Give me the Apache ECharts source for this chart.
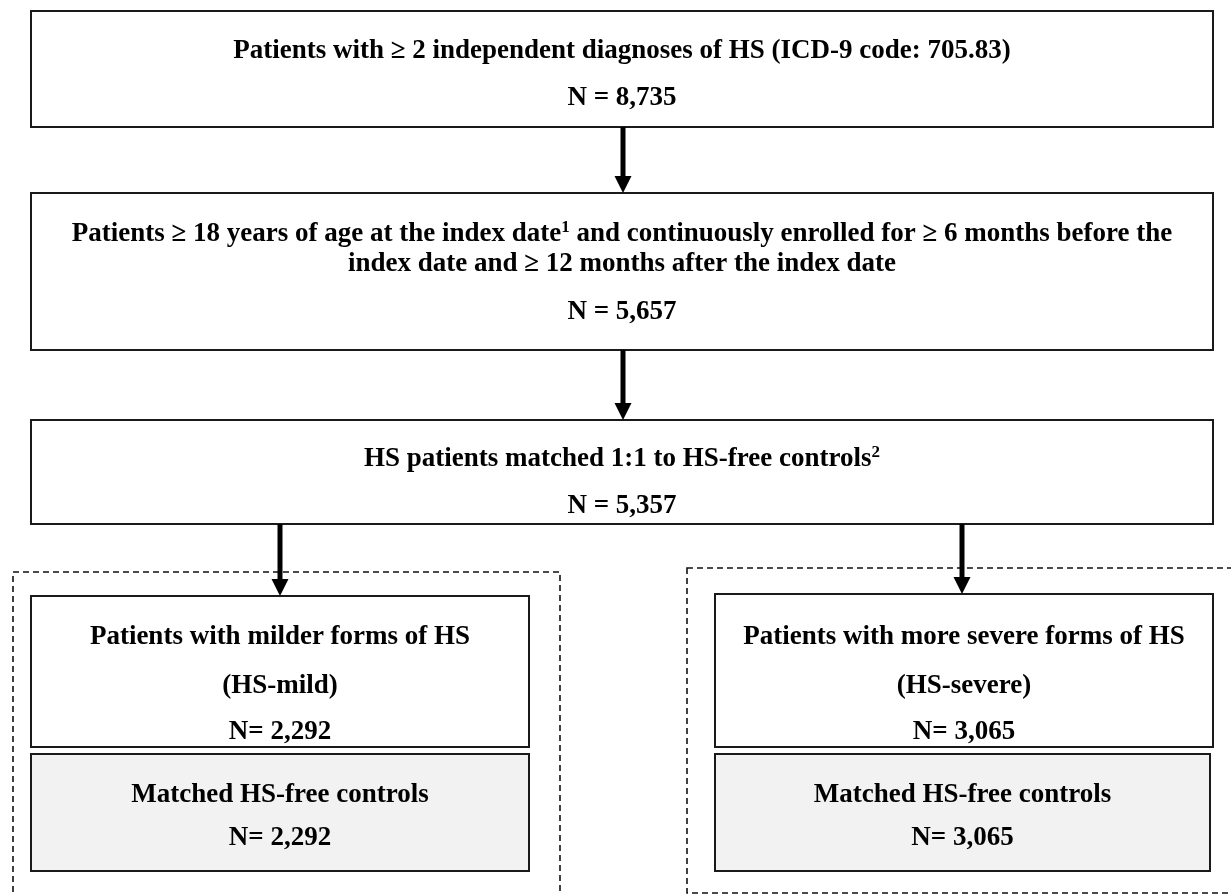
<!DOCTYPE html>
<html>
<head>
<meta charset="utf-8">
<script src="https://cdn.jsdelivr.net/npm/echarts@6/dist/echarts.min.js"></script>
<style>
html,body{margin:0;padding:0;background:#fff;}
#chart{width:1231px;height:895px;}
</style>
</head>
<body>
<div id="chart"></div>
<script>
// ---- data ----
const stepTitles = [
  ['Patients with \u2265 2 independent diagnoses of HS (ICD-9 code: 705.83)'],
  ['Patients \u2265 18 years of age at the index date{s|1} and continuously enrolled for \u2265 6 months before the',
   'index date and \u2265 12 months after the index date'],
  ['HS patients matched 1:1 to HS-free controls{s|2}'],
  ['Patients with milder forms of HS', '(HS-mild)'],
  ['Matched HS-free controls'],
  ['Patients with more severe forms of HS', '(HS-severe)'],
  ['Matched HS-free controls']
];
const stepCounts = [8735, 5657, 5357, 2292, 2292, 3065, 3065];
const countPrefix = ['N = ', 'N = ', 'N = ', 'N= ', 'N= ', 'N= ', 'N= '];
const isControl = [false, false, false, false, true, false, true];

// ---- layout (canvas units) ----
const boxRects = [
  [31, 11, 1213, 127],
  [31, 193, 1213, 350],
  [31, 420, 1213, 524],
  [31, 596, 529, 747],
  [31, 754, 529, 871],
  [715, 594, 1213, 747],
  [715, 754, 1210, 871]
];
const lineYs = [
  [51, 98],
  [234, 264, 312],
  [459, 506],
  [637, 686, 732],
  [795, 838],
  [637, 686, 732],
  [795, 838]
];
const arrows = [
  [623, 127, 193],
  [623, 350, 420],
  [280, 524, 596],
  [962, 524, 594]
];
const groups = [
  [13, 572, 560, 915],
  [687, 568, 1250, 893]
];

const FONT = '"Liberation Serif", "Times New Roman", serif';
const FS = 27;

function fmt(n){ return n.toLocaleString('en-US'); }

const boxData = boxRects.map((r, i) => [r[0], r[1], r[2], r[3], i]);

const chart = echarts.init(document.getElementById('chart'), null, {renderer: 'canvas'});
chart.setOption({
  animation: false,
  backgroundColor: '#ffffff',
  grid: {left: 0, right: 0, top: 0, bottom: 0},
  xAxis: {type: 'value', min: 0, max: 1231, show: false},
  yAxis: {type: 'value', min: 0, max: 895, inverse: true, show: false},
  series: [
    {
      type: 'custom',
      coordinateSystem: 'cartesian2d',
      data: groups,
      z: 1,
      renderItem: function (params, api) {
        const p0 = api.coord([api.value(0), api.value(1)]);
        const p1 = api.coord([api.value(2), api.value(3)]);
        return {
          type: 'rect',
          shape: {x: p0[0], y: p0[1], width: p1[0] - p0[0], height: p1[1] - p0[1]},
          style: {fill: 'none', stroke: '#111', lineWidth: 1.6, lineDash: [6, 4]}
        };
      }
    },
    {
      type: 'custom',
      coordinateSystem: 'cartesian2d',
      data: boxData,
      z: 2,
      renderItem: function (params, api) {
        const i = api.value(4);
        const p0 = api.coord([api.value(0), api.value(1)]);
        const p1 = api.coord([api.value(2), api.value(3)]);
        const cx = (p0[0] + p1[0]) / 2;
        const lines = stepTitles[i].concat([countPrefix[i] + fmt(stepCounts[i])]);
        const children = [{
          type: 'rect',
          shape: {x: p0[0], y: p0[1], width: p1[0] - p0[0], height: p1[1] - p0[1]},
          style: {fill: isControl[i] ? '#f2f2f2' : '#ffffff', stroke: '#1a1a1a', lineWidth: 2}
        }];
        lines.forEach((t, k) => {
          const y = api.coord([0, lineYs[i][k]])[1];
          children.push({
            type: 'text',
            x: cx, y: y,
            style: {
              text: t,
              fontFamily: FONT, fontSize: FS, fontWeight: 'bold',
              fill: '#000', align: 'center', verticalAlign: 'middle',
              rich: {s: {fontFamily: FONT, fontSize: 17, fontWeight: 'bold', fill: '#000', verticalAlign: 'top', lineHeight: 30}}
            }
          });
        });
        return {type: 'group', children: children};
      }
    },
    {
      type: 'custom',
      coordinateSystem: 'cartesian2d',
      data: arrows,
      z: 3,
      renderItem: function (params, api) {
        const a = api.coord([api.value(0), api.value(1)]);
        const b = api.coord([api.value(0), api.value(2)]);
        return {
          type: 'group',
          children: [
            {type: 'line', shape: {x1: a[0], y1: a[1], x2: b[0], y2: b[1] - 14},
             style: {stroke: '#000', lineWidth: 5}},
            {type: 'polygon', shape: {points: [[b[0] - 8.5, b[1] - 17], [b[0] + 8.5, b[1] - 17], [b[0], b[1]]]},
             style: {fill: '#000'}}
          ]
        };
      }
    }
  ]
});
</script>
</body>
</html>
